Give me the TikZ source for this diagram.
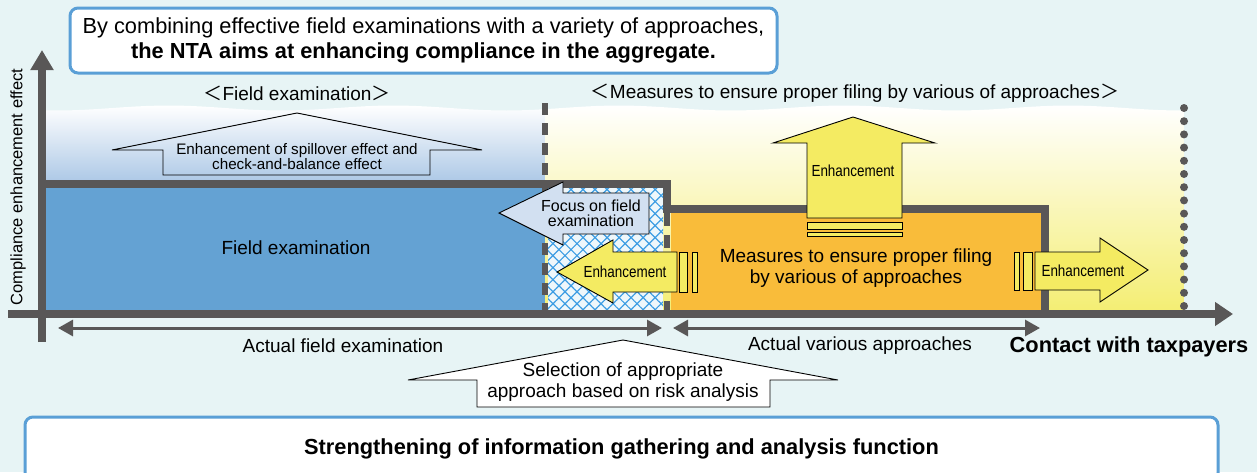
\documentclass[tikz,border=0pt]{standalone}
\usepackage{fontspec}
\setmainfont{Liberation Sans}
\newfontfamily\narrowfont[FakeStretch=0.84]{Liberation Sans}
\newfontfamily\cjkfont{Noto Sans CJK JP}
\usetikzlibrary{arrows.meta,patterns.meta,positioning}

\definecolor{bgcyan}{HTML}{E7F4F5}
\definecolor{frameblue}{HTML}{5A9FD6}
\definecolor{axisgray}{HTML}{595757}
\definecolor{fieldblue}{HTML}{64A2D3}
\definecolor{skyblue}{HTML}{A6C4E4}
\definecolor{measorange}{HTML}{F9BC3A}
\definecolor{enhyellow}{HTML}{F4EB62}
\definecolor{paleyellow}{HTML}{F4EE74}
\definecolor{focusblue}{HTML}{D2E0F1}
\definecolor{hatchblue}{HTML}{3D9DE3}
\definecolor{hatchbg}{HTML}{EEF7FB}

\tikzstyle{lbl} = [inner sep=0pt, align=center, font=\fontsize{19}{21}\selectfont]
\tikzstyle{big} = [inner sep=0pt, align=center, font=\fontsize{21.8}{25}\selectfont]
\tikzstyle{nlbl} = [inner sep=0pt, align=center, font=\narrowfont\fontsize{16}{15}\selectfont]
\tikzstyle{frame} = [draw=frameblue, line width=3pt, rounded corners=8pt, fill=white]
\tikzstyle{barrow} = [draw=black, line width=0.9pt, line join=miter]
\tikzstyle{axis} = [draw=axisgray, line width=8pt]

\begin{document}
\begin{tikzpicture}[x=1pt,y=-1pt]
	\useasboundingbox (0,0) rectangle (1257,472);
	\fill[bgcyan] (0,0) rectangle (1257,472);
	% headline
	\node[frame, big, minimum width=707pt, minimum height=65pt] (aim) at (423.5,40.5)
		{By combining effective field examinations with a variety of approaches,\\
		 \textbf{the NTA aims at enhancing compliance in the aggregate.}};
	% shaded bands with a wavy top
	\shade[top color=white, bottom color=skyblue] (46,188) -- (46,108)
		-- plot[domain=46:545,samples=40] (\x,{108+2.5*sin(1.6*\x)}) -- (545,188) -- cycle;
	\shade[top color=white, bottom color=paleyellow] (545,310) -- (545,108)
		-- plot[domain=545:1184,samples=50] (\x,{108+2.5*sin(1.6*\x)}) -- (1184,310) -- cycle;
	% blocks
	\fill[fieldblue] (46,188) rectangle (545,310);
	\fill[hatchbg] (548,188) rectangle (663,310);
	\fill[pattern={Hatch[angle=45,distance=8.5pt,line width=1.2pt]}, pattern color=hatchblue] (548,188) rectangle (663,310);
	\fill[measorange] (671,213) rectangle (1041,310);
	% borders between the areas
	\draw[axisgray, line width=6pt, dash pattern=on 12pt off 8pt] (545,103) -- (545,310);
	\draw[axisgray, line width=6pt, dash pattern=on 13pt off 9pt] (667,213) -- (667,310);
	\draw[axis, line join=miter] (46,184) -- (667,184) -- (667,209) -- (1045,209) -- (1045,310);
	\foreach \i in {0,...,15}
		\fill[axisgray] (1184,{108+13.2*\i}) circle[radius=4pt];
	% axes
	\coordinate (yfoot) at (42,342);
	\coordinate (ytip) at (42,50);
	\coordinate (xfoot) at (8,314);
	\coordinate (xtip) at (1233,314);
	\draw[axis, -{Triangle[width=22pt,length=20pt]}] (yfoot) -- (ytip);
	\draw[axis, -{Triangle[width=23pt,length=18pt]}] (xfoot) -- (xtip);
	% ranges below the axis
	\coordinate (fa) at (58,328);
	\coordinate (fb) at (662,328);
	\coordinate (va) at (673,328);
	\coordinate (vb) at (1040,328);
	\foreach \from/\to in {fa/fb,va/vb}
		\draw[axisgray, line width=3pt, {Triangle[width=16pt,length=15pt]}-{Triangle[width=16pt,length=15pt]}] (\from) -- (\to);
	% block arrows
	\draw[barrow] (163,175) -- (163,150) -- (112,150) -- (297,113) -- (482,150) -- (430,150) -- (430,175) -- cycle;
	\draw[barrow, fill=focusblue] (649,193) -- (563,193) -- (563,182) -- (499,213) -- (563,245) -- (563,234) -- (649,234) -- cycle;
	\draw[barrow, fill=enhyellow] (677,252) -- (613,252) -- (613,240) -- (557,272) -- (613,303) -- (613,292) -- (677,292) -- cycle;
	\draw[barrow, fill=enhyellow] (679,252) rectangle (687,292);
	\draw[barrow, fill=enhyellow] (692,252) rectangle (697,292);
	\draw[barrow, fill=enhyellow] (807,218) -- (807,143) -- (773,143) -- (853,117) -- (935,143) -- (902,143) -- (902,218) -- cycle;
	\draw[barrow, fill=enhyellow] (807,222) rectangle (902,229);
	\draw[barrow, fill=enhyellow] (807,232) rectangle (902,236);
	\draw[barrow, fill=enhyellow] (1035,252) -- (1100,252) -- (1100,238) -- (1148,270) -- (1100,302) -- (1100,290) -- (1035,290) -- cycle;
	\draw[barrow, fill=enhyellow] (1014,252) rectangle (1019,290);
	\draw[barrow, fill=enhyellow] (1023,252) rectangle (1032,290);
	\draw[barrow, fill=white] (477,407) -- (477,380) -- (408,380) -- (623,340) -- (838,380) -- (770,380) -- (770,407) -- cycle;
	% texts
	\node[lbl] (fehead) at (297,93) {{\cjkfont ＜}Field examination{\cjkfont ＞}};
	\node[lbl] (mehead) at (855,93) {{\cjkfont ＜}Measures to ensure proper filing by various of approaches{\cjkfont ＞}};
	\node[lbl, rotate=90, font=\fontsize{16.5}{18}\selectfont] (yname) at (18,187) {Compliance enhancement effect};
	\node[lbl, font=\fontsize{15.2}{15}\selectfont] (spill) at (297,157) {Enhancement of spillover effect and\\check-and-balance effect};
	\node[lbl] (fename) at (296,248) {Field examination};
	\node[lbl, font=\fontsize{16}{15}\selectfont] (focus) at (591,213) {Focus on field\\examination};
	\node[nlbl] (enhl) at (625,272) {Enhancement};
	\node[nlbl] (enhu) at (853,171) {Enhancement};
	\node[nlbl] (enhr) at (1083,271) {Enhancement};
	\node[lbl] (mename) at (856,268) {Measures to ensure proper filing\\by various of approaches};
	\node[lbl] (factual) at (343,346) {Actual field examination};
	\node[lbl] (vactual) at (860,346) {Actual various approaches};
	\node[big] (contact) at (1129,347) {\textbf{Contact with taxpayers}};
	\node[lbl] (select) at (623,382) {Selection of appropriate\\approach based on risk analysis};
	% bottom panel
	\node[frame, big, minimum width=1193pt, minimum height=64pt] (info) at (621.5,449)
		{\textbf{Strengthening of information gathering and analysis function}};
\end{tikzpicture}
\end{document}
